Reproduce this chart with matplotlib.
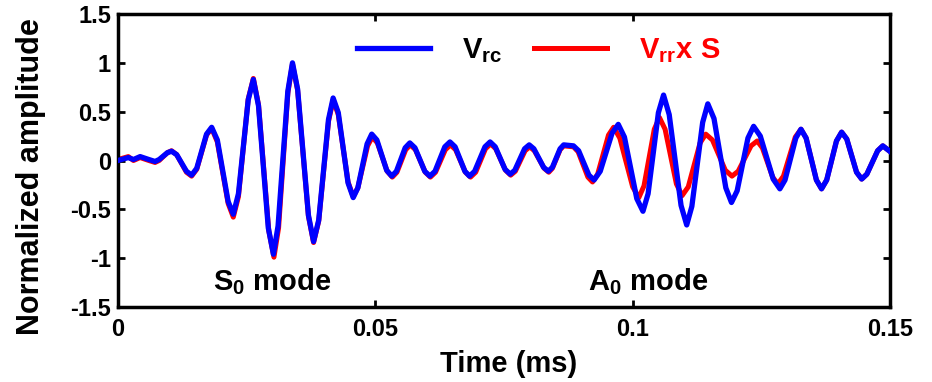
import matplotlib
matplotlib.use("Agg")
import matplotlib.pyplot as plt

plt.rcParams['font.family'] = ['Liberation Sans', 'DejaVu Sans']
plt.rcParams['font.weight'] = 'bold'
plt.rcParams['mathtext.fontset'] = 'custom'
plt.rcParams['mathtext.rm'] = 'Liberation Sans:bold'
plt.rcParams['mathtext.bf'] = 'Liberation Sans:bold'
plt.rcParams['mathtext.it'] = 'Liberation Sans:bold'

# ---- data (time in ms, normalized amplitude) ----
t_blue = [0.0000, 0.0020, 0.0030, 0.0043, 0.0060, 0.0072,
          0.0080, 0.0096, 0.0104, 0.0114, 0.0133, 0.0143,
          0.0153, 0.0172, 0.0182, 0.0193, 0.0214, 0.0224,
          0.0234, 0.0253, 0.0263, 0.0273, 0.0292, 0.0302,
          0.0311, 0.0330, 0.0339, 0.0349, 0.0370, 0.0380,
          0.0390, 0.0409, 0.0418, 0.0428, 0.0447, 0.0457,
          0.0466, 0.0484, 0.0493, 0.0503, 0.0522, 0.0532,
          0.0541, 0.0558, 0.0567, 0.0577, 0.0596, 0.0606,
          0.0616, 0.0635, 0.0645, 0.0655, 0.0674, 0.0683,
          0.0693, 0.0713, 0.0723, 0.0733, 0.0752, 0.0762,
          0.0771, 0.0790, 0.0799, 0.0808, 0.0827, 0.0836,
          0.0844, 0.0859, 0.0866, 0.0885,
          0.0895, 0.0915, 0.0925, 0.0937, 0.0960, 0.0972,
          0.0984, 0.1008, 0.1020, 0.1030, 0.1050, 0.1060,
          0.1071, 0.1094, 0.1105, 0.1115, 0.1136, 0.1146,
          0.1158, 0.1181, 0.1192, 0.1203, 0.1224, 0.1235,
          0.1248, 0.1273, 0.1286, 0.1296, 0.1317, 0.1327,
          0.1337, 0.1357, 0.1367, 0.1377, 0.1396, 0.1406,
          0.1416, 0.1435, 0.1445, 0.1455, 0.1476, 0.1486,
          0.1503]
v_blue = [0.00, 0.03, 0.01, 0.04, 0.01, -0.01,
          0.01, 0.08, 0.095, 0.06, -0.11, -0.15,
          -0.08, 0.27, 0.34, 0.21, -0.42, -0.55,
          -0.34, 0.62, 0.83, 0.56, -0.69, -0.96,
          -0.67, 0.71, 1.00, 0.73, -0.56, -0.83,
          -0.61, 0.42, 0.64, 0.49, -0.23, -0.38,
          -0.28, 0.17, 0.27, 0.21, -0.10, -0.16,
          -0.11, 0.13, 0.18, 0.13, -0.11, -0.16,
          -0.11, 0.14, 0.19, 0.14, -0.11, -0.16,
          -0.11, 0.14, 0.19, 0.14, -0.09, -0.14,
          -0.10, 0.12, 0.16, 0.12, -0.07, -0.11,
          -0.07, 0.12, 0.16, 0.15,
          0.10, -0.15, -0.20, -0.11, 0.28, 0.37,
          0.24, -0.39, -0.52, -0.34, 0.49, 0.67,
          0.47, -0.46, -0.66, -0.47, 0.39, 0.58,
          0.43, -0.28, -0.43, -0.31, 0.23, 0.35,
          0.25, -0.19, -0.29, -0.20, 0.23, 0.32,
          0.23, -0.20, -0.29, -0.20, 0.20, 0.29,
          0.22, -0.12, -0.19, -0.14, 0.10, 0.15,
          0.08]

t_red = [0.0000, 0.0020, 0.0030, 0.0043, 0.0060, 0.0072,
         0.0080, 0.0096, 0.0104, 0.0114, 0.0133, 0.0143,
         0.0153, 0.0172, 0.0182, 0.0193, 0.0214, 0.0224,
         0.0234, 0.0253, 0.0263, 0.0273, 0.0293, 0.0303,
         0.0312, 0.0330, 0.0339, 0.0349, 0.0370, 0.0380,
         0.0390, 0.0409, 0.0418, 0.0428, 0.0447, 0.0457,
         0.0466, 0.0485, 0.0494, 0.0504, 0.0523, 0.0533,
         0.0542, 0.0559, 0.0568, 0.0578, 0.0597, 0.0607,
         0.0617, 0.0636, 0.0646, 0.0656, 0.0675, 0.0685,
         0.0695, 0.0714, 0.0724, 0.0734, 0.0753, 0.0763,
         0.0772, 0.0791, 0.0800, 0.0809, 0.0828, 0.0837,
         0.0844, 0.0859, 0.0866, 0.0885,
         0.0894, 0.0913, 0.0922, 0.0932, 0.0953, 0.0963,
         0.0975, 0.1000, 0.1012, 0.1022, 0.1042, 0.1052,
         0.1063, 0.1085, 0.1096, 0.1108, 0.1131, 0.1142,
         0.1155, 0.1180, 0.1193, 0.1205, 0.1230, 0.1242,
         0.1252, 0.1272, 0.1282, 0.1293, 0.1316, 0.1327,
         0.1337, 0.1357, 0.1367, 0.1377, 0.1396, 0.1406,
         0.1416, 0.1435, 0.1445, 0.1455, 0.1476, 0.1486,
         0.1503]
v_red = [0.01, 0.04, 0.00, 0.03, 0.00, -0.02,
         0.00, 0.08, 0.10, 0.06, -0.12, -0.16,
         -0.09, 0.26, 0.33, 0.19, -0.44, -0.58,
         -0.37, 0.63, 0.84, 0.57, -0.72, -0.99,
         -0.69, 0.69, 0.99, 0.72, -0.57, -0.84,
         -0.62, 0.40, 0.62, 0.47, -0.22, -0.37,
         -0.28, 0.15, 0.24, 0.18, -0.11, -0.17,
         -0.12, 0.11, 0.16, 0.11, -0.12, -0.17,
         -0.12, 0.11, 0.16, 0.11, -0.12, -0.17,
         -0.12, 0.12, 0.17, 0.12, -0.10, -0.15,
         -0.11, 0.10, 0.14, 0.10, -0.08, -0.12,
         -0.08, 0.11, 0.15, 0.14,
         0.09, -0.17, -0.22, -0.14, 0.26, 0.34,
         0.23, -0.27, -0.38, -0.26, 0.32, 0.44,
         0.32, -0.24, -0.36, -0.27, 0.18, 0.27,
         0.21, -0.10, -0.16, -0.11, 0.15, 0.20,
         0.13, -0.17, -0.24, -0.16, 0.24, 0.32,
         0.23, -0.20, -0.29, -0.20, 0.20, 0.29,
         0.22, -0.12, -0.19, -0.14, 0.10, 0.15,
         0.08]

x_ticks = [0, 0.05, 0.1, 0.15]
x_ticklabels = ["0", "0.05", "0.1", "0.15"]
y_ticks = [-1.5, -1, -0.5, 0, 0.5, 1, 1.5]
y_ticklabels = ["-1.5", "-1", "-0.5", "0", "0.5", "1", "1.5"]

fig = plt.figure(figsize=(9.32, 3.82), dpi=100)
ax = fig.add_axes([118/932, 1 - 307/382, (890 - 118)/932, (307 - 14)/382])

ax.plot(t_red, v_red, color='#ff0000', lw=3.6, solid_joinstyle='round',
        label=r'$\mathrm{V_{rr}x\ S}$', zorder=2)
ax.plot(t_blue, v_blue, color='#0000ff', lw=3.8, solid_joinstyle='round',
        label=r'$\mathrm{V_{rc}}$', zorder=3)

ax.set_xlim(0, 0.15)
ax.set_ylim(-1.5, 1.5)
ax.set_xticks(x_ticks)
ax.set_xticklabels(x_ticklabels)
ax.set_yticks(y_ticks)
ax.set_yticklabels(y_ticklabels)
ax.tick_params(direction='in', length=5, width=2, top=True, right=True,
               labelsize=17)
ax.tick_params(axis='x', pad=8)
ax.tick_params(axis='y', pad=5)
for lab in ax.get_xticklabels() + ax.get_yticklabels():
    lab.set_fontweight('bold')
for s in ax.spines.values():
    s.set_linewidth(2.5)

ax.set_xlabel('Time (ms)', fontsize=21, fontweight='bold')
ax.xaxis.set_label_coords(0.506, -0.147)
ax.set_ylabel('Normalized amplitude', fontsize=22, fontweight='bold')
ax.yaxis.set_label_coords(-0.093, 0.444)

handles, labels = ax.get_legend_handles_labels()
leg = ax.legend(handles[::-1], labels[::-1], loc='center', bbox_to_anchor=(0.545, 0.875),
                ncol=2, frameon=False, fontsize=21, handlelength=2.5,
                handletextpad=1.1, columnspacing=1.1)
leg.get_texts()[0].set_color('black')
leg.get_texts()[1].set_color('#ff0000')

ax.text(0.0300, -1.24, r'$\mathrm{S_0}$ mode', fontsize=21, fontweight='bold',
        ha='center', va='center')
ax.text(0.1029, -1.24, r'$\mathrm{A_0}$ mode', fontsize=21, fontweight='bold',
        ha='center', va='center')

fig.savefig('out.png', dpi=100)
